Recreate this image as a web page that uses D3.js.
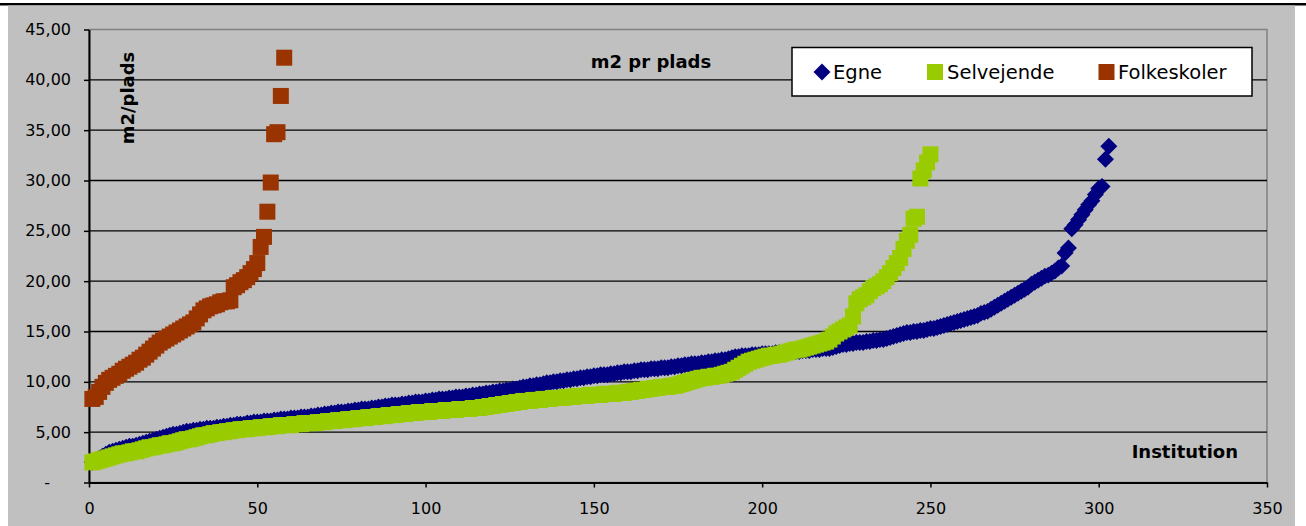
<!DOCTYPE html>
<html>
<head>
<meta charset="utf-8">
<script src="https://cdn.jsdelivr.net/npm/d3@7"></script>
<style>
body { margin: 0; background: #fff; }
svg text { font-family: "DejaVu Sans", Verdana, sans-serif; fill: #000; }
</style>
</head>
<body>
<div id="chart"></div>
<script>
// m2 pr plads, sorted per institution type (position in list = institution no., from 1)
var egne = [
  2.0, 2.2, 2.4, 2.6, 2.8, 3.0, 3.1, 3.2, 3.3, 3.4,
  3.5, 3.6, 3.6, 3.7, 3.8, 3.9, 4.0, 4.1, 4.2, 4.3,
  4.4, 4.5, 4.6, 4.7, 4.8, 4.8, 4.9, 5.0, 5.1, 5.1,
  5.2, 5.2, 5.3, 5.3, 5.4, 5.4, 5.4, 5.5, 5.5, 5.6,
  5.6, 5.7, 5.7, 5.8, 5.8, 5.8, 5.9, 5.9, 6.0, 6.0,
  6.0, 6.1, 6.1, 6.1, 6.2, 6.2, 6.3, 6.3, 6.3, 6.4,
  6.4, 6.4, 6.5, 6.5, 6.5, 6.6, 6.6, 6.7, 6.7, 6.8,
  6.8, 6.9, 6.9, 7.0, 7.0, 7.0, 7.1, 7.1, 7.2, 7.2,
  7.3, 7.3, 7.3, 7.4, 7.4, 7.5, 7.5, 7.6, 7.6, 7.7,
  7.7, 7.7, 7.8, 7.8, 7.9, 7.9, 8.0, 8.0, 8.0, 8.1,
  8.1, 8.2, 8.2, 8.3, 8.3, 8.3, 8.4, 8.4, 8.5, 8.5,
  8.5, 8.6, 8.6, 8.7, 8.7, 8.8, 8.8, 8.9, 8.9, 9.0,
  9.0, 9.1, 9.1, 9.2, 9.2, 9.3, 9.3, 9.4, 9.5, 9.5,
  9.6, 9.6, 9.7, 9.7, 9.8, 9.9, 9.9, 10.0, 10.0, 10.1,
  10.1, 10.2, 10.2, 10.3, 10.3, 10.4, 10.4, 10.5, 10.5, 10.6,
  10.6, 10.7, 10.7, 10.7, 10.8, 10.8, 10.9, 10.9, 11.0, 11.0,
  11.0, 11.1, 11.1, 11.2, 11.2, 11.2, 11.3, 11.3, 11.3, 11.4,
  11.4, 11.4, 11.5, 11.5, 11.6, 11.6, 11.7, 11.7, 11.8, 11.8,
  11.8, 11.9, 11.9, 12.0, 12.0, 12.1, 12.1, 12.2, 12.2, 12.3,
  12.4, 12.5, 12.5, 12.6, 12.6, 12.6, 12.7, 12.7, 12.7, 12.8,
  12.8, 12.8, 12.8, 12.9, 12.9, 12.9, 12.9, 13.0, 13.0, 13.0,
  13.0, 13.1, 13.1, 13.1, 13.2, 13.2, 13.2, 13.3, 13.3, 13.3,
  13.4, 13.5, 13.6, 13.7, 13.7, 13.8, 13.8, 13.9, 13.9, 13.9,
  14.0, 14.0, 14.1, 14.1, 14.2, 14.2, 14.3, 14.4, 14.5, 14.6,
  14.7, 14.8, 14.9, 14.9, 15.0, 15.0, 15.1, 15.1, 15.2, 15.3,
  15.3, 15.4, 15.5, 15.6, 15.7, 15.8, 15.9, 16.0, 16.1, 16.2,
  16.3, 16.4, 16.5, 16.6, 16.8, 16.9, 17.0, 17.2, 17.4, 17.6,
  17.8, 18.0, 18.2, 18.4, 18.6, 18.8, 19.0, 19.2, 19.4, 19.7,
  19.9, 20.1, 20.3, 20.5, 20.6, 20.8, 21.0, 21.3, 21.5, 22.8,
  23.3, 25.2, 25.6, 26.1, 26.6, 27.1, 27.6, 28.0, 28.6, 29.2,
  29.4, 32.1, 33.4
];

var selvejende = [
  2.0, 2.1, 2.2, 2.3, 2.4, 2.5, 2.6, 2.7, 2.8, 2.9,
  2.9, 3.0, 3.1, 3.1, 3.2, 3.3, 3.4, 3.5, 3.5, 3.6,
  3.7, 3.7, 3.8, 3.9, 3.9, 4.0, 4.1, 4.2, 4.3, 4.3,
  4.4, 4.5, 4.6, 4.7, 4.7, 4.8, 4.9, 4.9, 5.0, 5.0,
  5.1, 5.1, 5.2, 5.2, 5.3, 5.3, 5.3, 5.4, 5.4, 5.4,
  5.5, 5.5, 5.5, 5.6, 5.6, 5.6, 5.7, 5.7, 5.7, 5.7,
  5.8, 5.8, 5.8, 5.9, 5.9, 5.9, 5.9, 6.0, 6.0, 6.0,
  6.1, 6.1, 6.1, 6.2, 6.2, 6.2, 6.3, 6.3, 6.3, 6.4,
  6.4, 6.4, 6.5, 6.5, 6.5, 6.6, 6.6, 6.6, 6.7, 6.7,
  6.7, 6.8, 6.8, 6.8, 6.9, 6.9, 6.9, 7.0, 7.0, 7.0,
  7.0, 7.1, 7.1, 7.1, 7.1, 7.2, 7.2, 7.2, 7.2, 7.3,
  7.3, 7.3, 7.3, 7.4, 7.4, 7.4, 7.5, 7.5, 7.6, 7.6,
  7.7, 7.7, 7.8, 7.8, 7.9, 7.9, 8.0, 8.0, 8.1, 8.1,
  8.1, 8.2, 8.2, 8.2, 8.3, 8.3, 8.3, 8.4, 8.4, 8.4,
  8.4, 8.5, 8.5, 8.5, 8.6, 8.6, 8.6, 8.6, 8.7, 8.7,
  8.7, 8.7, 8.8, 8.8, 8.8, 8.8, 8.9, 8.9, 8.9, 9.0,
  9.0, 9.1, 9.1, 9.2, 9.2, 9.3, 9.3, 9.4, 9.4, 9.5,
  9.5, 9.5, 9.6, 9.6, 9.7, 9.8, 9.9, 10.0, 10.1, 10.2,
  10.3, 10.4, 10.4, 10.5, 10.5, 10.6, 10.6, 10.7, 10.8, 10.9,
  11.0, 11.2, 11.4, 11.6, 11.8, 12.0, 12.1, 12.2, 12.3, 12.4,
  12.5, 12.6, 12.6, 12.7, 12.7, 12.8, 12.9, 13.0, 13.1, 13.2,
  13.2, 13.3, 13.4, 13.5, 13.6, 13.7, 13.8, 13.9, 14.0, 14.2,
  14.5, 14.8, 15.0, 15.2, 15.4, 15.6, 16.5, 17.8, 18.2, 18.4,
  18.6, 19.0, 19.3, 19.5, 19.7, 20.0, 20.4, 20.8, 21.3, 21.8,
  22.3, 23.2, 24.0, 24.6, 26.2, 26.4, 30.2, 31.0, 31.8, 32.6
];

var folkeskoler = [
  8.3, 8.5, 9.0, 9.5, 9.9, 10.2, 10.4, 10.6, 10.8,
  11.1, 11.3, 11.5, 11.7, 11.9, 12.2, 12.4, 12.7, 13.0, 13.3,
  13.6, 13.9, 14.1, 14.3, 14.5, 14.7, 14.9, 15.1, 15.3, 15.5,
  15.7, 15.9, 16.3, 16.7, 17.1, 17.3, 17.5, 17.6, 17.7, 17.9,
  18.0, 18.0, 18.1, 19.4, 19.6, 19.9, 20.1, 20.4, 20.8, 21.2,
  21.8, 23.4, 24.4, 26.9, 29.8, 34.6, 34.8, 38.4, 42.2
];

var xTicks = [0, 50, 100, 150, 200, 250, 300, 350];
var yTicks = [0, 5, 10, 15, 20, 25, 30, 35, 40, 45];
var yTickLabels = ["-", "5,00", "10,00", "15,00", "20,00", "25,00", "30,00", "35,00", "40,00", "45,00"];
var seriesNames = ["Egne", "Selvejende", "Folkeskoler"];

var egneColor = "#000080";
var selvColor = "#99cc00";
var folkColor = "#993300";

var width = 1306, height = 526;
var plot = {left: 89, right: 1267, top: 29.5, bottom: 482.5};

var svg = d3.select("#chart").append("svg")
    .attr("width", width)
    .attr("height", height);

// chart area
svg.append("rect").attr("x", 0).attr("y", 3).attr("width", width).attr("height", 2.5).style("fill", "#000");
svg.append("rect").attr("x", 8).attr("y", 5.5).attr("width", 1287).attr("height", height - 5.5).style("fill", "#c0c0c0");

var xScale = d3.scaleLinear().domain([0, 350]).range([plot.left, plot.right]);
var yScale = d3.scaleLinear().domain([0, 45]).range([plot.bottom, plot.top]);

// plot area border (top + right)
svg.append("rect")
    .attr("x", plot.left).attr("y", plot.top)
    .attr("width", plot.right - plot.left).attr("height", plot.bottom - plot.top)
    .style("fill", "none").style("stroke", "#808080").style("stroke-width", 1.5);

// gridlines
svg.selectAll(".grid")
    .data(yTicks.filter(d => d > 0 && d < 45))
  .enter().append("line")
    .attr("class", "grid")
    .attr("x1", plot.left).attr("x2", plot.right)
    .attr("y1", d => yScale(d)).attr("y2", d => yScale(d))
    .style("stroke", "#000").style("stroke-width", 1.3);

// axes
var yAxis = svg.append("g")
    .attr("transform", "translate(" + plot.left + ",0)")
    .call(d3.axisLeft(yScale).tickValues(yTicks).tickSize(5).tickSizeOuter(0).tickPadding(13)
        .tickFormat((d, i) => yTickLabels[i]));

var xAxis = svg.append("g")
    .attr("transform", "translate(0," + plot.bottom + ")")
    .call(d3.axisBottom(xScale).tickValues(xTicks).tickSize(5).tickSizeOuter(0).tickPadding(15));

[yAxis, xAxis].forEach(function(ax){
    ax.attr("font-family", null).attr("font-size", null);
    ax.select(".domain").style("stroke", "#000").style("stroke-width", 2);
    ax.selectAll(".tick line").style("stroke", "#000").style("stroke-width", 1.5);
    ax.selectAll(".tick text").style("font-size", "16px").style("fill", "#000");
});
// accounting style zero
yAxis.selectAll(".tick text").filter(d => d == 0).attr("x", -39);

// markers: Egne first, the others drawn on top
var diamond = d3.symbol(d3.symbolSquare, 144);
var square = d3.symbol(d3.symbolSquare, 256);

svg.selectAll(".dotEgne")
    .data(egne)
  .enter().append("path")
    .attr("class", "dotEgne")
    .attr("d", diamond)
    .attr("transform", (d, i) => "translate(" + xScale(i + 1) + "," + yScale(d) + ") rotate(45)")
    .style("fill", egneColor);

svg.selectAll(".dotSelv")
    .data(selvejende)
  .enter().append("path")
    .attr("class", "dotSelv")
    .attr("d", square)
    .attr("transform", (d, i) => "translate(" + xScale(i + 1) + "," + yScale(d) + ")")
    .style("fill", selvColor);

svg.selectAll(".dotFolk")
    .data(folkeskoler)
  .enter().append("path")
    .attr("class", "dotFolk")
    .attr("d", square)
    .attr("transform", (d, i) => "translate(" + xScale(i + 1) + "," + yScale(d) + ")")
    .style("fill", folkColor);

// titles
svg.append("text").attr("x", 651).attr("y", 68).attr("text-anchor", "middle")
    .style("font-size", "18px").style("font-weight", "bold").text("m2 pr plads");
svg.append("text").attr("x", -98).attr("y", 134).attr("transform", "rotate(-90)").attr("text-anchor", "middle")
    .style("font-size", "18px").style("font-weight", "bold").text("m2/plads");
svg.append("text").attr("x", 1238).attr("y", 458).attr("text-anchor", "end")
    .style("font-size", "18px").style("font-weight", "bold").text("Institution");

// legend
svg.append("rect").attr("x", 792).attr("y", 47.5).attr("width", 460).attr("height", 48.5)
    .style("fill", "#fff").style("stroke", "#000").style("stroke-width", 1.5);

svg.append("path").attr("d", diamond).attr("transform", "translate(822,72) rotate(45)").style("fill", egneColor);
svg.append("text").attr("x", 833).attr("y", 79).style("font-size", "19.5px").text(seriesNames[0]);

svg.append("path").attr("d", square).attr("transform", "translate(935,72)").style("fill", selvColor);
svg.append("text").attr("x", 947).attr("y", 79).style("font-size", "19.5px").text(seriesNames[1]);

svg.append("path").attr("d", square).attr("transform", "translate(1106.5,72)").style("fill", folkColor);
svg.append("text").attr("x", 1118).attr("y", 79).style("font-size", "19.5px").text(seriesNames[2]);
</script>
</body>
</html>
